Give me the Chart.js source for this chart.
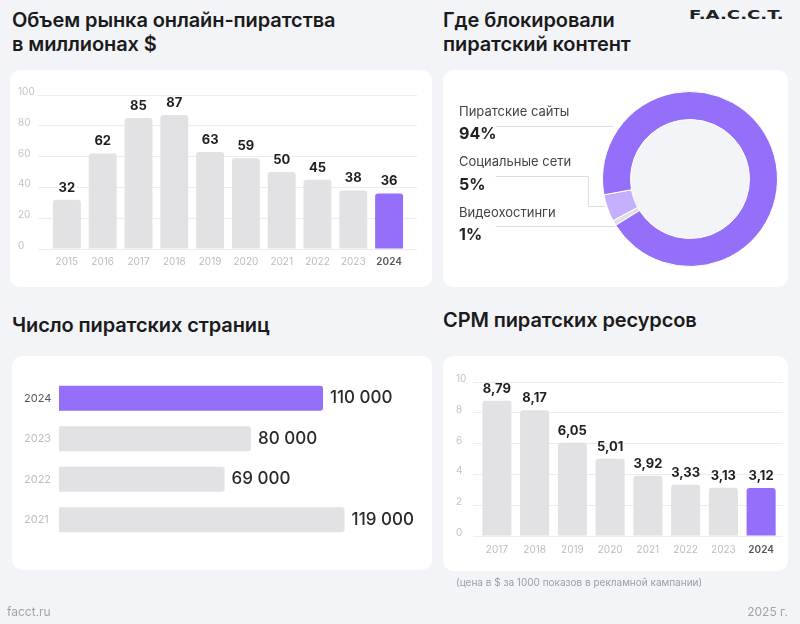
<!DOCTYPE html>
<html lang="ru">
<head>
<meta charset="utf-8">
<script src="https://cdn.jsdelivr.net/npm/chart.js@4/dist/chart.umd.min.js"></script>
<style>
  html, body { margin: 0; padding: 0; }
  body { width: 800px; height: 624px; background: #f3f4f8; position: relative; overflow: hidden; font-family: Inter, "Noto Sans", sans-serif; color: #1b1b1b; }
  .card { position: absolute; background: #ffffff; border-radius: 10px; }
  .title { position: absolute; font-size: 20px; font-weight: 600; line-height: 24px; color: #1b1b1b; letter-spacing: -0.1px; }
  canvas { position: absolute; }
  .logo { position: absolute; left: 689px; top: 7px; font-family: "DejaVu Sans", sans-serif; font-weight: 700; font-size: 12.5px; letter-spacing: 0px; transform: scaleX(1.45); transform-origin: left top; color: #222; }
  .lg-name { position: absolute; left: 459px; font-size: 13px; line-height: 20px; height: 20px; color: #444; }
  .lg-val { position: absolute; left: 459px; font-size: 16px; font-weight: 700; line-height: 20px; height: 20px; color: #1f1f1f; }
  .foot { position: absolute; font-size: 12px; line-height: 14px; color: #a3a3a8; }
  .note { position: absolute; left: 456px; top: 576px; font-size: 10px; line-height: 13px; color: #9d9da3; }
  svg { position: absolute; left: 0; top: 0; pointer-events: none; }
</style>
</head>
<body>
<script>
// ---------- DATA ----------
const marketYears = ['2015','2016','2017','2018','2019','2020','2021','2022','2023','2024'];
const marketValues = [32, 62, 85, 87, 63, 59, 50, 45, 38, 36];

const blockCategories = ['Пиратские сайты', 'Социальные сети', 'Видеохостинги'];
const blockShares = [94, 5, 1];

const pageYears = ['2024', '2023', '2022', '2021'];
const pageCounts = [110000, 80000, 69000, 119000];

const cpmYears = ['2017','2018','2019','2020','2021','2022','2023','2024'];
const cpmValues = [8.79, 8.17, 6.05, 5.01, 3.92, 3.33, 3.13, 3.12];

const highlightYear = '2024';
</script>

<div class="title" style="left:12px; top:8px;">Объем рынка онлайн-пиратства<br>в миллионах $</div>
<div class="title" style="left:443px; top:8px;">Где блокировали<br>пиратский контент</div>
<div class="logo">F.A.C.C.T.</div>
<div class="title" style="left:12px; top:313px;">Число пиратских страниц</div>
<div class="title" style="left:443px; top:308px;">CPM пиратских ресурсов</div>

<div class="card" style="left:10px; top:70px; width:422px; height:217px;"></div>
<div class="card" style="left:443px; top:70px; width:345px; height:217px;"></div>
<div class="card" style="left:12px; top:356px; width:420px; height:214px;"></div>
<div class="card" style="left:443px; top:356px; width:345px; height:215px;"></div>

<canvas id="market" width="422" height="217" style="left:10px; top:70px;"></canvas>
<canvas id="donut" width="176" height="176" style="left:602px; top:91px;"></canvas>
<canvas id="pages" width="420" height="214" style="left:12px; top:356px;"></canvas>
<canvas id="cpm" width="345" height="215" style="left:443px; top:356px;"></canvas>

<svg width="800" height="624">
  <path d="M495.5 126.5 H613" stroke="#dedee2" stroke-width="1" fill="none"/>
  <path d="M495.5 176.5 H588.5 V206.5 H605" stroke="#dedee2" stroke-width="1" fill="none"/>
  <path d="M495.5 226.5 H615" stroke="#dedee2" stroke-width="1" fill="none"/>
</svg>

<div id="legend"></div>

<div class="note">(цена в $ за 1000 показов в рекламной кампании)</div>
<div class="foot" style="left:7px; top:605px;">facct.ru</div>
<div class="foot" style="right:12px; top:605px;">2025 г.</div>

<script>
Chart.defaults.font.family = 'Inter, "Noto Sans", sans-serif';
Chart.defaults.animation = false;
Chart.defaults.events = [];
Chart.defaults.plugins.legend.display = false;
Chart.defaults.plugins.tooltip.enabled = false;

const PURPLE = '#946ffa';
const GREY_BAR = '#e2e2e4';
const GRID = '#ececef';
const TICK = '#c4c4c8';

function makeValueLabels(format, font, color, offset, horizontal) {
  return {
    id: 'valueLabels',
    afterDatasetsDraw(chart) {
      const ctx = chart.ctx;
      const meta = chart.getDatasetMeta(0);
      const data = chart.data.datasets[0].data;
      ctx.save();
      ctx.font = font;
      ctx.fillStyle = color;
      ctx.textBaseline = 'middle';
      meta.data.forEach((el, i) => {
        const t = format(data[i]);
        if (horizontal) { ctx.textAlign = 'left'; ctx.fillText(t, el.x + offset, el.y); }
        else { ctx.textAlign = 'center'; ctx.fillText(t, el.x, el.y - offset); }
      });
      ctx.restore();
    }
  };
}

function yearColor(labels) {
  return (ctx) => labels[ctx.index] === highlightYear ? '#55555a' : '#bdbdc2';
}
function yearFont(labels, size) {
  return (ctx) => ({ size: size, weight: labels[ctx.index] === highlightYear ? '600' : '400' });
}

// ---------- Chart 1: market volume ----------
new Chart(document.getElementById('market'), {
  type: 'bar',
  data: {
    labels: marketYears,
    datasets: [{
      data: marketValues,
      backgroundColor: marketYears.map(y => y === highlightYear ? PURPLE : GREY_BAR),
      borderRadius: { topLeft: 3, topRight: 3 },
      borderSkipped: 'start',
      categoryPercentage: 1,
      barPercentage: 0.78
    }]
  },
  options: {
    responsive: false,
    devicePixelRatio: 1,
    layout: { padding: { left: 8, right: 15, top: 25, bottom: 0 } },
    scales: {
      x: {
        grid: { display: false, drawTicks: false },
        border: { display: false },
        ticks: { padding: 7, color: yearColor(marketYears), font: yearFont(marketYears, 10) },
        afterFit: (s) => { s.height = 38; }
      },
      y: {
        min: 0, max: 100,
        ticks: { stepSize: 20, crossAlign: 'far', labelOffset: -3, color: TICK, font: { size: 10 } },
        grid: { color: GRID, lineWidth: 1, drawTicks: true, tickLength: 11 },
        border: { display: false },
        afterFit: (s) => { s.width = 31; }
      },
      y2: {
        position: 'right',
        min: 0, max: 100,
        ticks: { stepSize: 20, display: false },
        grid: { color: GRID, drawOnChartArea: false, drawTicks: true, tickLength: 10 },
        border: { display: false },
        afterFit: (s) => { s.width = 10; }
      }
    }
  },
  plugins: [makeValueLabels(v => String(v), '700 13px Inter, "Noto Sans", sans-serif', '#1f1f1f', 12, false)]
});

// ---------- Chart 2: donut ----------
const donutColors = { 'Пиратские сайты': PURPLE, 'Социальные сети': '#c3affc', 'Видеохостинги': '#e1e1e5' };
const donutLabels = blockCategories.slice().reverse();
const donutData = blockShares.slice().reverse();

const innerFill = {
  id: 'innerFill',
  beforeDatasetsDraw(chart) {
    const arc = chart.getDatasetMeta(0).data[0];
    if (!arc) return;
    const p = arc.getProps(['x', 'y', 'innerRadius'], true);
    const ctx = chart.ctx;
    ctx.save();
    ctx.beginPath();
    ctx.arc(p.x, p.y, p.innerRadius, 0, Math.PI * 2);
    ctx.fillStyle = '#f3f4f8';
    ctx.fill();
    ctx.restore();
  }
};

new Chart(document.getElementById('donut'), {
  type: 'doughnut',
  data: {
    labels: donutLabels,
    datasets: [{
      data: donutData,
      backgroundColor: donutLabels.map(l => donutColors[l]),
      borderWidth: 1,
      borderColor: '#ffffff'
    }]
  },
  options: {
    responsive: false,
    devicePixelRatio: 1,
    cutout: '68%',
    rotation: 238,
    layout: { padding: 0 }
  },
  plugins: [innerFill]
});

// legend texts for donut
(function () {
  const nameTops = [101, 151, 202];
  const valTops = [123, 174, 224];
  const box = document.getElementById('legend');
  blockCategories.forEach((c, i) => {
    const n = document.createElement('div');
    n.className = 'lg-name'; n.style.top = nameTops[i] + 'px'; n.textContent = c;
    const v = document.createElement('div');
    v.className = 'lg-val'; v.style.top = valTops[i] + 'px'; v.textContent = blockShares[i] + '%';
    box.appendChild(n); box.appendChild(v);
  });
})();

// ---------- Chart 3: pirate pages ----------
const fmtThousands = (v) => String(v).replace(/\B(?=(\d{3})+(?!\d))/g, ' ');
new Chart(document.getElementById('pages'), {
  type: 'bar',
  data: {
    labels: pageYears,
    datasets: [{
      data: pageCounts,
      backgroundColor: pageYears.map(y => y === highlightYear ? PURPLE : GREY_BAR),
      borderRadius: 3,
      borderSkipped: 'start',
      categoryPercentage: 1,
      barPercentage: 0.62
    }]
  },
  options: {
    indexAxis: 'y',
    responsive: false,
    devicePixelRatio: 1,
    layout: { padding: { left: 12, right: 13, top: 22, bottom: 30 } },
    scales: {
      x: { display: false, min: 0, max: 150000 },
      y: {
        grid: { display: false, drawTicks: false },
        border: { display: false },
        ticks: { crossAlign: 'far', color: yearColor(pageYears), font: { size: 11 } },
        afterFit: (s) => { s.width = 35; }
      }
    }
  },
  plugins: [makeValueLabels(fmtThousands, '500 17px Inter, "Noto Sans", sans-serif', '#2a2a2a', 7, true)]
});

// ---------- Chart 4: CPM ----------
new Chart(document.getElementById('cpm'), {
  type: 'bar',
  data: {
    labels: cpmYears,
    datasets: [{
      data: cpmValues,
      backgroundColor: cpmYears.map(y => y === highlightYear ? PURPLE : GREY_BAR),
      borderRadius: { topLeft: 3, topRight: 3 },
      borderSkipped: 'start',
      categoryPercentage: 1,
      barPercentage: 0.77
    }]
  },
  options: {
    responsive: false,
    devicePixelRatio: 1,
    layout: { padding: { left: 13, right: 5, top: 26, bottom: 0 } },
    scales: {
      x: {
        grid: { display: false, drawTicks: false },
        border: { display: false },
        ticks: { padding: 8, color: yearColor(cpmYears), font: yearFont(cpmYears, 10) },
        afterFit: (s) => { s.height = 35; }
      },
      y: {
        min: 0, max: 10,
        ticks: { stepSize: 2, crossAlign: 'far', labelOffset: -3, color: TICK, font: { size: 10 } },
        grid: { color: GRID, drawTicks: true, tickLength: 5 },
        border: { display: false },
        afterFit: (s) => { s.width = 22; }
      },
      y2: {
        position: 'right',
        min: 0, max: 10,
        ticks: { stepSize: 2, display: false },
        grid: { color: GRID, drawOnChartArea: false, drawTicks: true, tickLength: 3 },
        border: { display: false },
        afterFit: (s) => { s.width = 3; }
      }
    }
  },
  plugins: [makeValueLabels(v => v.toFixed(2).replace('.', ','), '700 13px Inter, "Noto Sans", sans-serif', '#1f1f1f', 12, false)]
});
</script>
</body>
</html>
